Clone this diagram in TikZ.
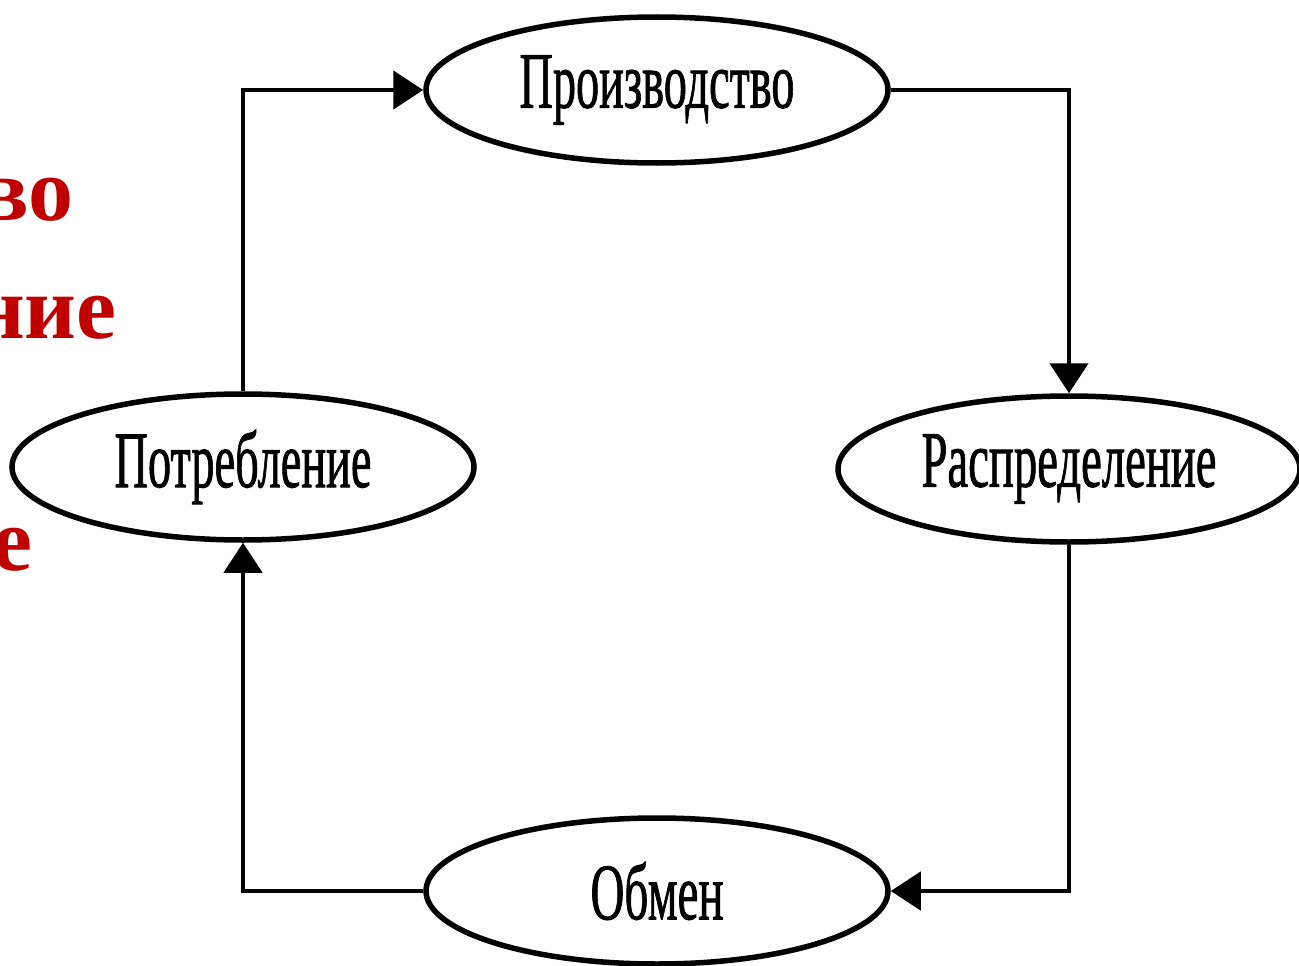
\documentclass[tikz,border=0pt]{standalone}
\usepackage{fontspec}
\setmainfont{Liberation Serif}
\newfontfamily\lblfont[FakeBold=1.3]{Liberation Serif}
\usetikzlibrary{shapes.geometric,arrows.meta}
\definecolor{redtxt}{RGB}{192,0,0}
\newcommand{\lbltext}[2]{\resizebox{#1}{\height}{\lblfont\fontsize{80}{90}\selectfont #2}}
\begin{document}
\begin{tikzpicture}[x=1pt,y=-1pt,
  stage/.style={ellipse, draw, line width=5.5pt, minimum width=462pt, minimum height=146pt, inner sep=0pt, fill=white},
  flow/.style={line width=4.5pt, -{Triangle[length=30pt,width=38pt]}},
  redword/.style={text=redtxt, font=\bfseries\fontsize{90}{100}\selectfont, inner sep=0pt, anchor=base east}]
\useasboundingbox (0,0) rectangle (1299,966);
\clip (0,0) rectangle (1299,966);
\fill[white] (0,0) rectangle (1299,966);
% red partial words (cut at the left edge, as in the reference)
\node[redword] (r1) at (74,220) {во};
\node[redword] (r2) at (117,338) {ние};
\node[redword] (r3) at (33,570) {е};
% stages
\node[stage] (pro) at (657,90) {\lbltext{275pt}{Производство}};
\node[stage] (pot) at (243,467) {\lbltext{257pt}{Потребление}};
\node[stage] (ras) at (1069,469) {\lbltext{295pt}{Распределение}};
\node[stage] (obm) at (657,891) {\lbltext{133pt}{Обмен}};
% connectors
\draw[flow] (pot.north) |- (pro.west);
\draw[flow] (pro.east) -| (ras.north);
\draw[flow] (ras.south) |- (obm.east);
\draw[flow] (obm.west) -| (pot.south);
\end{tikzpicture}
\end{document}
